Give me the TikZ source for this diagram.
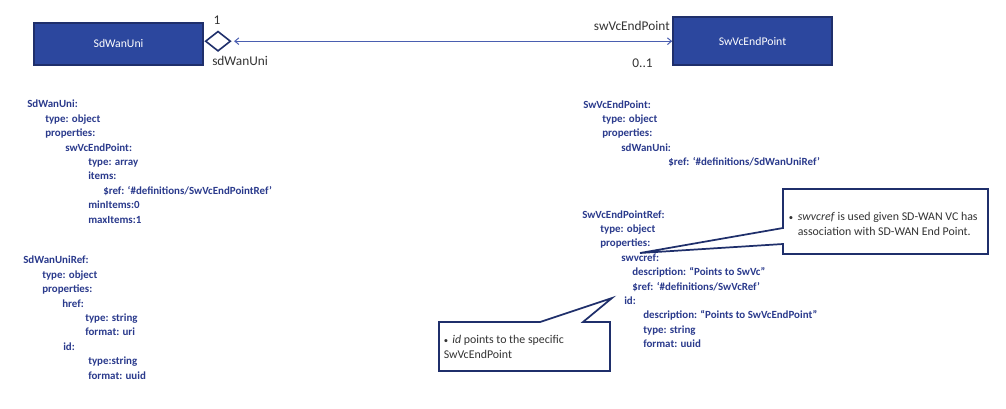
\documentclass[tikz,border=0pt]{standalone}
\usepackage{fontspec}
\setmainfont{Carlito}
\usepackage{xcolor}
\usepackage{tikz}
\usetikzlibrary{shapes.geometric,arrows.meta}
\definecolor{umlfill}{HTML}{2C479E}
\definecolor{umledge}{HTML}{1F2F6B}
\definecolor{code}{HTML}{2A3A8C}
\definecolor{wire}{HTML}{4A5EB0}
\definecolor{ink}{HTML}{333333}
\newcommand{\ind}[1]{\hspace*{#1pt}}
\newcommand{\bul}[1]{\makebox[#1pt][l]{\fontsize{6.5}{6.5}\selectfont•}}

\begin{document}
\begin{tikzpicture}[x=0.75pt,y=-0.75pt,
  cls/.style={draw=umledge,fill=umlfill,line width=1.2pt,text=white,font=\fontsize{8.8}{10}\selectfont},
  lbl/.style={text=ink,font=\fontsize{10}{12}\selectfont,inner sep=0pt},
  yaml/.style={text=code,font=\fontsize{8.2}{10.8}\selectfont\bfseries,align=left,anchor=base west,inner sep=0pt},
  note/.style={draw=umledge,fill=white,line width=1.3pt,line join=miter},
  notetext/.style={text=ink,font=\fontsize{8.9}{11.2}\selectfont,align=left,anchor=base west,inner sep=0pt}]
\useasboundingbox (0,0) rectangle (1006,408);
% classes and association
\node[cls,minimum width=126.75pt,minimum height=31.5pt] (sdwanuni) at (118.5,43.8) {SdWanUni};
\node[cls,minimum width=119.25pt,minimum height=36pt] (swvcendpoint) at (752.5,41.2) {SwVcEndPoint};
\node[diamond,draw=umledge,fill=white,line width=1.2pt,minimum width=19pt,minimum height=15pt,inner sep=0pt] (agg) at (218,41.2) {};
\draw[wire,line width=0.75pt,{Straight Barb[length=3pt,width=5pt]}-{Straight Barb[length=3pt,width=5pt]},shorten <=2pt] (agg.east) -- (swvcendpoint.west);
\node[lbl,anchor=base] (mult1) at (217,24) {1};
\node[lbl,anchor=base west] (role1) at (212,65.5) {sdWanUni};
\node[lbl,anchor=base east] (role2) at (670,30) {swVcEndPoint};
\node[lbl,anchor=base] (mult2) at (642.5,67.5) {0..1};

% definitions (base = last line)
\node[yaml] (def1) at (27,223) {SdWanUni:\\
\ind{13.5}type: object\\
\ind{13.5}properties:\\
\ind{28.5}swVcEndPoint:\\
\ind{45.75}type: array\\
\ind{45.75}items:\\
\ind{57}\$ref: ‘\#definitions/SwVcEndPointRef’\\
\ind{45.75}minItems:0\\
\ind{45.75}maxItems:1};
\node[yaml] (def2) at (23,379) {SdWanUniRef:\\
\ind{14.25}type: object\\
\ind{14.25}properties:\\
\ind{29.25}href:\\
\ind{46.5}type: string\\
\ind{46.5}format: uri\\
\ind{30}id:\\
\ind{48.75}type:string\\
\ind{48.75}format: uuid};
\node[yaml] (def3) at (583,165.6) {SwVcEndPoint:\\
\ind{14.25}type: object\\
\ind{14.25}properties:\\
\ind{28.5}sdWanUni:\\
\ind{63.75}\$ref: ‘\#definitions/SdWanUniRef’};
\node[yaml] (def4) at (582,347.6) {SwVcEndPointRef:\\
\ind{13.5}type: object\\
\ind{13.5}properties:\\
\ind{29.25}swvcref:\\
\ind{37.5}description: “Points to SwVc"\\
\ind{37.5}\$ref: ‘\#definitions/SwVcRef’\\
\ind{31.5}id:\\
\ind{45.75}description: “Points to SwVcEndPoint”\\
\ind{45.75}type: string\\
\ind{45.75}format: uuid};

% callouts
\coordinate (tip1) at (640,253);
\coordinate (tip2) at (612,298);
\draw[note] (783,189) -- (988,189) -- (988,254) -- (783,254) -- (783,244) -- (tip1) -- (783,228) -- cycle;
\node[notetext] (note1) at (788.5,235.5) {\bul{6.75}\textit{swvcref} is used given SD-WAN VC has\\\ind{6.75}association with SD-WAN End Point.};
\draw[note] (439,322) -- (540,322) -- (tip2) -- (583,322) -- (610,322) -- (610,371) -- (439,371) -- cycle;
\node[notetext] (note2) at (443.5,358.5) {\bul{6.4}\textit{id} points to the specific\\SwVcEndPoint};
\end{tikzpicture}
\end{document}
